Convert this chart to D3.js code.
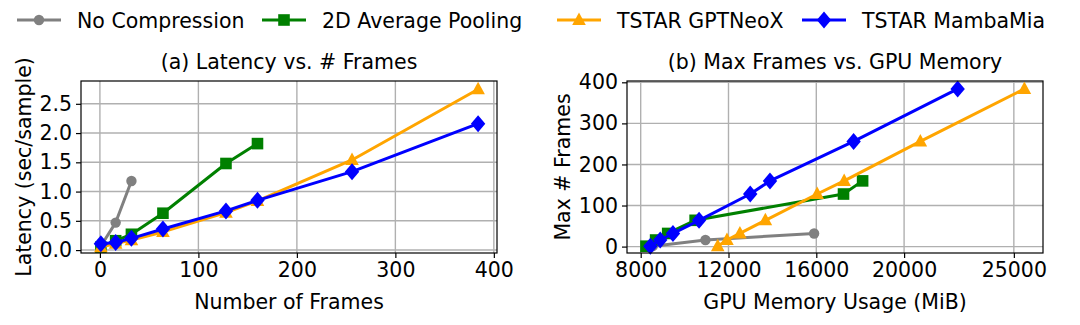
<!DOCTYPE html>
<html>
<head>
<meta charset="utf-8">
<script src="https://cdn.jsdelivr.net/npm/d3@7"></script>
<style>
  body { margin: 0; background: #fff; }
  svg { font-family: "DejaVu Sans", sans-serif; }
  .grid line { stroke: #b0b0b0; stroke-width: 1.4; }
</style>
</head>
<body>
<div id="chart"></div>
<script>
// series names and colours
const seriesNames = ["No Compression", "2D Average Pooling", "TSTAR GPTNeoX", "TSTAR MambaMia"];
const seriesColors = ["#808080", "#008000", "#ffa500", "#0000ff"];
const seriesMarkers = ["circle", "square", "triangle", "diamond"];

// (a) latency vs number of frames
const framesNoComp = [1, 16, 32];
const latencyNoComp = [0.07, 0.47, 1.18];
const framesPool = [1, 16, 32, 64, 128, 160];
const latencyPool = [0.05, 0.16, 0.27, 0.63, 1.48, 1.82];
const framesNeoX = [1, 16, 32, 64, 128, 160, 256, 384];
const latencyNeoX = [0.05, 0.11, 0.17, 0.31, 0.64, 0.84, 1.54, 2.75];
const framesMamba = [1, 16, 32, 64, 128, 160, 256, 384];
const latencyMamba = [0.11, 0.13, 0.2, 0.36, 0.67, 0.85, 1.34, 2.16];

// (b) max frames vs GPU memory
const memNoComp = [8550, 10950, 15900];
const maxNoComp = [1, 16, 32];
const memPool = [8240, 8680, 9230, 10480, 17240, 18110];
const maxPool = [1, 16, 32, 64, 128, 160];
const memNeoX = [11510, 11930, 12520, 13680, 16040, 17270, 20740, 25480];
const maxNeoX = [1, 16, 32, 64, 128, 160, 256, 384];
const memMamba = [8440, 8890, 9470, 10660, 12990, 13890, 17700, 22440];
const maxMamba = [1, 16, 32, 64, 128, 160, 256, 384];

const ticksAx = [0, 100, 200, 300, 400];
const ticksAy = [0.0, 0.5, 1.0, 1.5, 2.0, 2.5];
const ticksBx = [8000, 12000, 16000, 20000, 25000];
const ticksBy = [0, 100, 200, 300, 400];

const width = 1080, height = 325;
const fontSize = 20.5;

const svg = d3.select("#chart").append("svg")
    .attr("width", width)
    .attr("height", height);

// marker shapes, roughly matplotlib o / s / ^ / D
function markerPath(kind) {
    if (kind === "circle") return d3.symbol(d3.symbolCircle, Math.PI * 5.2 * 5.2)();
    if (kind === "square") return "M-5.8,-5.8H5.8V5.8H-5.8Z";
    if (kind === "triangle") return "M0,-7.5L6.8,5L-6.8,5Z";
    return "M0,-8.5L7.2,0L0,8.5L-7.2,0Z";
}

function drawPanel(opts) {
    const x = d3.scaleLinear().domain(opts.xDomain).range([opts.left, opts.right]);
    const y = d3.scaleLinear().domain(opts.yDomain).range([opts.bottom, opts.top]);
    const g = svg.append("g");

    // grid
    const grid = g.append("g").attr("class", "grid");
    grid.selectAll(".gx").data(opts.xTicks).join("line")
        .attr("x1", d => x(d)).attr("x2", d => x(d))
        .attr("y1", opts.top).attr("y2", opts.bottom);
    grid.selectAll(".gy").data(opts.yTicks).join("line")
        .attr("x1", opts.left).attr("x2", opts.right)
        .attr("y1", d => y(d)).attr("y2", d => y(d));

    // series
    opts.series.forEach((s, i) => {
        const pts = s.x.map((v, j) => [v, s.y[j]]);
        g.append("path")
            .datum(pts)
            .attr("fill", "none")
            .attr("stroke", seriesColors[i])
            .attr("stroke-width", 3)
            .attr("stroke-linejoin", "round")
            .attr("d", d3.line().x(d => x(d[0])).y(d => y(d[1])));
        g.selectAll(null).data(pts).join("path")
            .attr("transform", d => `translate(${x(d[0])},${y(d[1])})`)
            .attr("d", markerPath(seriesMarkers[i]))
            .attr("fill", seriesColors[i]);
    });

    // axes
    const xAxis = d3.axisBottom(x).tickValues(opts.xTicks).tickFormat(opts.xFormat).tickSize(5).tickPadding(4);
    const yAxis = d3.axisLeft(y).tickValues(opts.yTicks).tickFormat(opts.yFormat).tickSize(5).tickPadding(4);
    const gx = g.append("g").attr("transform", `translate(0,${opts.bottom})`).call(xAxis);
    const gy = g.append("g").attr("transform", `translate(${opts.left},0)`).call(yAxis);
    [gx, gy].forEach(a => {
        a.select(".domain").remove();
        a.selectAll(".tick line").attr("stroke", "#000").attr("stroke-width", 1.2);
        a.selectAll("text").attr("font-size", fontSize).attr("fill", "#000")
            .attr("font-family", "DejaVu Sans, sans-serif");
    });

    g.append("rect")
        .attr("x", opts.left).attr("y", opts.top)
        .attr("width", opts.right - opts.left).attr("height", opts.bottom - opts.top)
        .attr("fill", "none").attr("stroke", "#000").attr("stroke-width", 1.2);

    const cx = (opts.left + opts.right) / 2;
    g.append("text").attr("x", cx).attr("y", 69)
        .attr("text-anchor", "middle").attr("font-size", fontSize).text(opts.title);
    g.append("text").attr("x", cx).attr("y", 309)
        .attr("text-anchor", "middle").attr("font-size", fontSize).text(opts.xLabel);
    g.append("text")
        .attr("transform", `translate(${opts.yLabelX},${(opts.top + opts.bottom) / 2}) rotate(-90)`)
        .attr("text-anchor", "middle").attr("font-size", fontSize).text(opts.yLabel);
}

drawPanel({
    left: 81, right: 497, top: 81, bottom: 253,
    xDomain: [-19.2, 403.2], yDomain: [-0.05, 2.89],
    xTicks: ticksAx, yTicks: ticksAy,
    xFormat: d3.format("d"), yFormat: d3.format(".1f"),
    title: "(a) Latency vs. # Frames",
    xLabel: "Number of Frames",
    yLabel: "Latency (sec/sample)", yLabelX: 31,
    series: [
        {x: framesNoComp, y: latencyNoComp},
        {x: framesPool, y: latencyPool},
        {x: framesNeoX, y: latencyNeoX},
        {x: framesMamba, y: latencyMamba}
    ]
});

drawPanel({
    left: 627, right: 1043, top: 81, bottom: 253,
    xDomain: [7376, 26328], yDomain: [-15.6, 403.2],
    xTicks: ticksBx, yTicks: ticksBy,
    xFormat: d3.format("d"), yFormat: d3.format("d"),
    title: "(b) Max Frames vs. GPU Memory",
    xLabel: "GPU Memory Usage (MiB)",
    yLabel: "Max # Frames", yLabelX: 570,
    series: [
        {x: memNoComp, y: maxNoComp},
        {x: memPool, y: maxPool},
        {x: memNeoX, y: maxNeoX},
        {x: memMamba, y: maxMamba}
    ]
});

// legend
const legendX = [17, 262, 557, 802];
const legend = svg.append("g");
seriesNames.forEach((name, i) => {
    const lg = legend.append("g").attr("transform", `translate(${legendX[i]},20)`);
    lg.append("line").attr("x1", 0).attr("x2", 44).attr("y1", 0).attr("y2", 0)
        .attr("stroke", seriesColors[i]).attr("stroke-width", 3);
    lg.append("path").attr("transform", "translate(22,0)")
        .attr("d", markerPath(seriesMarkers[i]))
        .attr("fill", seriesColors[i]);
    lg.append("text").attr("x", 60).attr("y", 7.5).attr("font-size", fontSize).text(name);
});
</script>
</body>
</html>
